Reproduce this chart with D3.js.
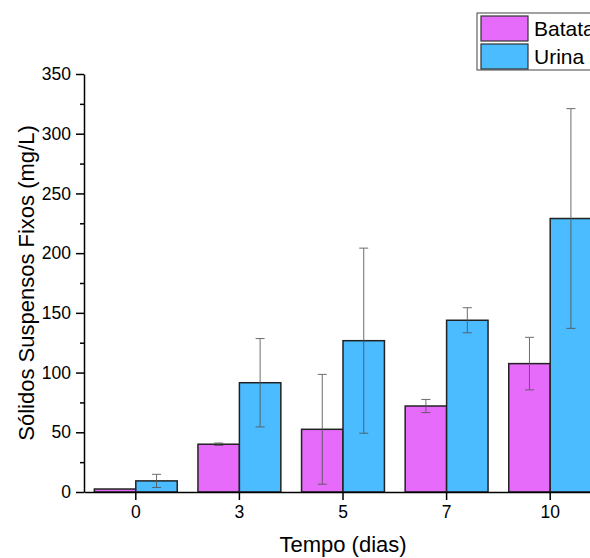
<!DOCTYPE html>
<html>
<head>
<meta charset="utf-8">
<script src="https://cdn.jsdelivr.net/npm/d3@7"></script>
<style>
  body { margin: 0; background: #fff; }
  svg { display: block; font-family: "Liberation Sans", Arial, sans-serif; }
</style>
</head>
<body>
<div id="chart"></div>
<script>
// data
var dias = ["0", "3", "5", "7", "10"];
var series = ["Batata", "Urina"];
var batata = [2.5, 40, 52.5, 72, 107.5];
var batataErr = [0, 1, 46, 5.5, 22];
var urina = [9.3, 91.5, 126.7, 143.8, 229];
var urinaErr = [5.5, 37, 77.5, 10.5, 92];
var yTicks = [0, 50, 100, 150, 200, 250, 300, 350];

var colors = { Batata: "#e66bfa", Urina: "#4abcff" };

var width = 590, height = 558;
var margin = { top: 74, right: -12, bottom: 66, left: 84 },
    w = width - margin.left - margin.right,
    h = height - margin.top - margin.bottom;

var svg = d3.select("#chart").append("svg")
    .attr("width", width)
    .attr("height", height);

var g = svg.append("g")
    .attr("transform", "translate(" + margin.left + "," + margin.top + ")");

var x = d3.scaleBand().domain(dias).range([0, w]).paddingInner(0.2).paddingOuter(0.1);
var xs = d3.scaleBand().domain(series).range([0, x.bandwidth()]);
var y = d3.scaleLinear().domain([0, 350]).range([h, 0]);

var rows = dias.map(function (d, i) {
    return [
        { dia: d, s: "Batata", v: batata[i], e: batataErr[i] },
        { dia: d, s: "Urina", v: urina[i], e: urinaErr[i] }
    ];
});

var grp = g.selectAll(".grp").data(rows).enter().append("g")
    .attr("transform", function (d) { return "translate(" + x(d[0].dia) + ",0)"; });

grp.selectAll("rect").data(function (d) { return d; }).enter().append("rect")
    .attr("x", function (d) { return xs(d.s); })
    .attr("y", function (d) { return y(d.v); })
    .attr("width", xs.bandwidth())
    .attr("height", function (d) { return h - y(d.v); })
    .style("fill", function (d) { return colors[d.s]; })
    .style("stroke", "#222")
    .style("stroke-width", 1.5);

// error bars
var eb = grp.selectAll(".err").data(function (d) { return d.filter(function (r) { return r.e > 0; }); })
    .enter().append("g").attr("class", "err")
    .style("stroke", "#555").style("stroke-width", 1).style("opacity", 0.85);

eb.append("line")
    .attr("x1", function (d) { return xs(d.s) + xs.bandwidth() / 2; })
    .attr("x2", function (d) { return xs(d.s) + xs.bandwidth() / 2; })
    .attr("y1", function (d) { return y(d.v + d.e); })
    .attr("y2", function (d) { return y(d.v - d.e); });

[1, -1].forEach(function (sign) {
    eb.append("line")
        .attr("x1", function (d) { return xs(d.s) + xs.bandwidth() / 2 - 4.5; })
        .attr("x2", function (d) { return xs(d.s) + xs.bandwidth() / 2 + 4.5; })
        .attr("y1", function (d) { return y(d.v + sign * d.e); })
        .attr("y2", function (d) { return y(d.v + sign * d.e); });
});

// y axis with minor ticks
var minor = d3.range(25, 350, 50);
g.append("g")
    .call(d3.axisLeft(y).tickValues(minor).tickSize(4).tickFormat(""))
    .call(function (a) { a.select(".domain").remove(); })
    .selectAll("line").style("stroke", "#000").style("stroke-width", 1.5);

var yAxis = g.append("g")
    .call(d3.axisLeft(y).tickValues(yTicks).tickSize(8).tickPadding(5).tickSizeOuter(0));
yAxis.selectAll("text").style("font-size", "17.5px").style("fill", "#000");
yAxis.selectAll("line").style("stroke", "#000").style("stroke-width", 1.5);
yAxis.select(".domain").style("stroke", "#000").style("stroke-width", 1.5);

var xAxis = g.append("g")
    .attr("transform", "translate(0," + h + ")")
    .call(d3.axisBottom(x).tickSize(8).tickPadding(6).tickSizeOuter(0));
xAxis.selectAll("text").style("font-size", "17.5px").style("fill", "#000");
xAxis.selectAll("line").style("stroke", "#000").style("stroke-width", 1.5);
xAxis.select(".domain").style("stroke", "#000").style("stroke-width", 1.5);

// axis titles
svg.append("text")
    .attr("x", margin.left + x("5") + x.bandwidth() / 2)
    .attr("y", 552)
    .attr("text-anchor", "middle")
    .style("font-size", "22px")
    .text("Tempo (dias)");

svg.append("text")
    .attr("transform", "translate(34," + (margin.top + h / 2) + ") rotate(-90)")
    .attr("text-anchor", "middle")
    .style("font-size", "22px")
    .text("Sólidos Suspensos Fixos (mg/L)");

// legend
var lg = svg.append("g").attr("transform", "translate(477,13)");
lg.append("rect")
    .attr("width", 140).attr("height", 57)
    .style("fill", "#fff").style("stroke", "#444").style("stroke-width", 1);
series.forEach(function (s, i) {
    lg.append("rect")
        .attr("x", 4).attr("y", 3 + i * 28)
        .attr("width", 47).attr("height", 25)
        .style("fill", colors[s]).style("stroke", "#333").style("stroke-width", 1.2);
    lg.append("text")
        .attr("x", 57).attr("y", 23 + i * 28)
        .style("font-size", "21px")
        .text(s);
});
</script>
</body>
</html>
